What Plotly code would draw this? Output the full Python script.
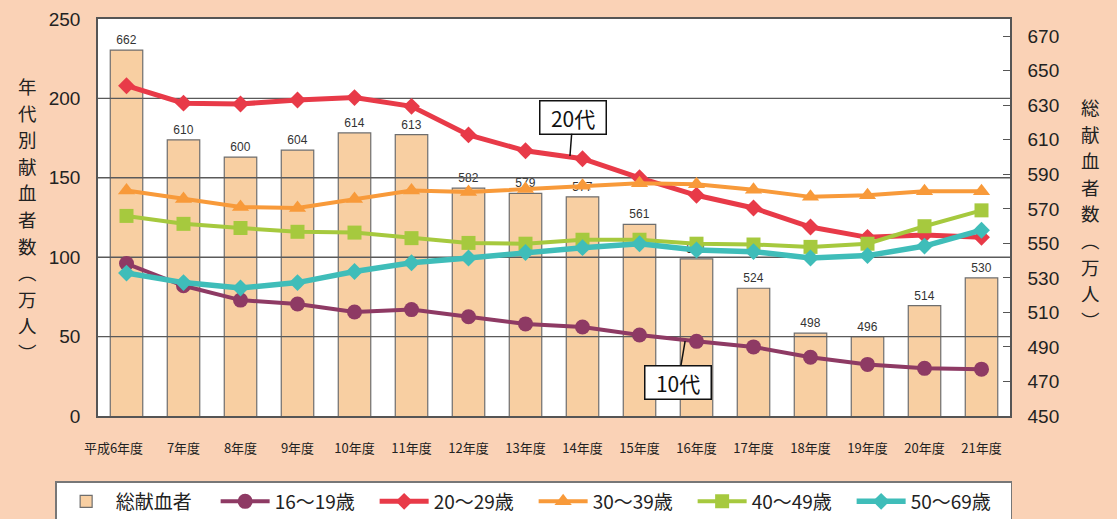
import plotly.graph_objects as go

categories = ['平成6年度', '7年度', '8年度', '9年度', '10年度', '11年度', '12年度', '13年度',
              '14年度', '15年度', '16年度', '17年度', '18年度', '19年度', '20年度', '21年度']
total_donors = [662, 610, 600, 604, 614, 613, 582, 579, 577, 561, 541, 524, 498, 496, 514, 530]
age16_19 = [96, 82, 73, 70.5, 65.5, 67, 62.5, 58, 56, 51, 47, 43.5, 37, 32.5, 30, 29.5]
age20_29 = [208, 197, 196.5, 199, 200.5, 195, 177, 167, 162, 150, 139, 131, 119, 112.5, 114, 112.5]
age30_39 = [142, 136.6, 131.6, 131, 136.6, 142, 141, 143, 145, 146.5, 146, 142.5, 138, 139, 141.5, 141.5]
age40_49 = [126, 121, 118.4, 116, 115.5, 112, 109, 108.5, 111, 111, 108.5, 108, 106.5, 108.5, 119.5, 129.5]
age50_69 = [90, 84, 80.6, 84, 91, 96.5, 99.5, 103, 106, 108.5, 104.5, 103.5, 99.5, 101, 107, 117]

left_ticks = [0, 50, 100, 150, 200, 250]
right_ticks = [450, 470, 490, 510, 530, 550, 570, 590, 610, 630, 650, 670]
left_title = '年代別献血者数︵万人︶'
right_title = '総献血者数︵万人︶'

xpos = list(range(len(categories)))
xmin, xmax = -0.5, len(categories) - 0.5
# the first label carries the era name to the left of its category centre
ticktext = [categories[0] + '\u3000\u3000'] + categories[1:]

BG = '#FAD2B6'
AX = '#555555'
NUM_FONT = 'Liberation Sans, Arial, sans-serif'
CJK_FONT = 'Noto Sans CJK JP, sans-serif'
NB = '\u00a0'

fig = go.Figure()

# total donors bars on the primary (right-side) axis
fig.add_trace(go.Bar(
    x=xpos, y=total_donors, name='総献血者', yaxis='y',
    marker=dict(color='#F8CFA2', line=dict(color='#6E6E6E', width=1.2)),
    width=0.57, texttemplate='%{y}', textposition='outside',
    textfont=dict(family=NUM_FONT, size=12, color='#333333'),
    cliponaxis=False,
))

# gridlines on the left axis, drawn above bars and below the lines
gx, gy = [], []
for t in left_ticks[1:-1]:
    gx += [xmin, xmax, None]
    gy += [t, t, None]
fig.add_trace(go.Scatter(x=gx, y=gy, yaxis='y2', mode='lines', showlegend=False,
                         hoverinfo='skip', line=dict(color='#5A5A5A', width=1.4)))

series = [
    ('16～19歳', age16_19, '#8E3A64', 'circle', 15, 4),
    ('20～29歳', age20_29, '#E83A48', 'diamond', 13, 5),
    ('30～39歳', age30_39, '#F89A3A', 'triangle-up', 15, 4),
    ('40～49歳', age40_49, '#A6C93E', 'square', 14, 4),
    ('50～69歳', age50_69, '#3FBDB9', 'diamond', 13, 5.5),
]
for name, vals, col, sym, ms, lw in series:
    fig.add_trace(go.Scatter(
        x=xpos, y=vals, name=name, yaxis='y2', mode='lines+markers',
        line=dict(color=col, width=lw),
        marker=dict(symbol=sym, size=ms, color=col, line=dict(width=0)),
        cliponaxis=False,
    ))

# vertical (stacked, upright) axis titles, one character per annotation
PLOT_TOP, PLOT_H, PLOT_L, PLOT_W = 19, 397, 98, 912
annotations = []
for title, xc, y0 in [(left_title, 27, 86), (right_title, 1090, 107)]:
    for i, ch in enumerate(title):
        ypx = y0 + i * 26.6
        annotations.append(dict(
            text=ch, xref='paper', yref='paper',
            x=(xc - PLOT_L) / PLOT_W, y=(PLOT_TOP + PLOT_H - ypx) / PLOT_H,
            xanchor='center', yanchor='middle', showarrow=False,
            font=dict(family=CJK_FONT, size=18.5, color='#222222')))

annotations += [
    dict(text=NB * 2 + '20代' + NB * 2, x=7.78, y=163.7, xref='x', yref='y2', showarrow=True,
         ax=3, ay=-39, arrowhead=0, arrowwidth=1.5, arrowcolor='#111111',
         bgcolor='white', bordercolor='#111111', borderwidth=1.5, borderpad=1,
         font=dict(family=CJK_FONT, size=21, color='#111111')),
    dict(text=NB * 2 + '10代' + NB * 2, x=9.8, y=47.2, xref='x', yref='y2', showarrow=True,
         ax=-7, ay=41, arrowhead=0, arrowwidth=1.5, arrowcolor='#111111',
         bgcolor='white', bordercolor='#111111', borderwidth=1.5, borderpad=1,
         font=dict(family=CJK_FONT, size=21, color='#111111')),
]

fig.update_layout(
    width=1117, height=519,
    margin=dict(l=98, r=107, t=19, b=103, autoexpand=False),
    paper_bgcolor=BG, plot_bgcolor='white',
    showlegend=True,
    xaxis=dict(
        range=[xmin, xmax], tickmode='array', tickvals=xpos, ticktext=ticktext,
        showgrid=False, zeroline=False, showline=True, linecolor=AX, linewidth=1.5,
        mirror=True, ticks='', ticklabelstandoff=20, tickangle=0,
        tickfont=dict(family=CJK_FONT, size=13, color='#222222'),
    ),
    yaxis=dict(
        side='right', range=[450, 680], tickmode='array', tickvals=right_ticks,
        showgrid=False, zeroline=False, showline=True, linecolor=AX, linewidth=1.5,
        ticks='inside', ticklen=7, tickcolor=AX, tickwidth=1.2, ticklabelstandoff=12,
        tickfont=dict(family=NUM_FONT, size=19, color='#222222'),
    ),
    yaxis2=dict(
        overlaying='y', side='left', range=[0, 250], tickmode='array', tickvals=left_ticks,
        showgrid=False, zeroline=False, showline=True, linecolor=AX, linewidth=1.5,
        ticks='', ticklabelstandoff=12,
        tickfont=dict(family=NUM_FONT, size=19, color='#222222'),
    ),
    legend=dict(
        orientation='h', xref='paper', yref='paper',
        x=-0.047, xanchor='left', y=(416 - 481) / 397, yanchor='top',
        bgcolor='white', bordercolor='#777777', borderwidth=1.5,
        font=dict(family=CJK_FONT, size=19, color='#222222'),
        itemwidth=49, entrywidth=95, entrywidthmode='pixels', traceorder='normal',
    ),
    annotations=annotations,
)

fig.write_html('out.html', config={'displayModeBar': False})

# remove the browser's default page margin so the figure starts at the top-left corner
with open('out.html', encoding='utf-8') as f:
    html = f.read()
html = html.replace('<head>', '<head><style>html,body{margin:0;padding:0;overflow:hidden;}</style>', 1)
with open('out.html', 'w', encoding='utf-8') as f:
    f.write(html)
